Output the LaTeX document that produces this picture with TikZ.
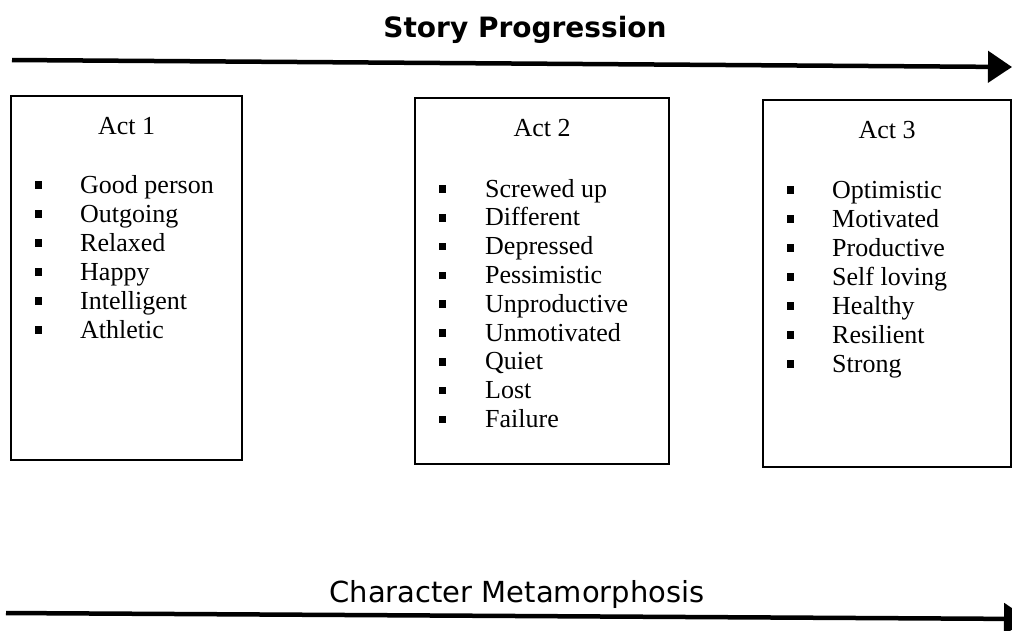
\documentclass[tikz,border=0pt]{standalone}
\usepackage{fontspec}
\setmainfont{Liberation Serif}
\setsansfont{DejaVu Sans}
\usetikzlibrary{arrows.meta}

\begin{document}
\begin{tikzpicture}[x=1pt,y=-1pt,
  actbox/.style={draw, line width=2.2pt, inner sep=0pt, anchor=north west},
  acttitle/.style={font=\fontsize{26}{30}\selectfont, anchor=base, inner sep=0pt},
  itemtext/.style={font=\fontsize{26}{30}\selectfont, anchor=base west, inner sep=0pt},
  bulletsq/.style={fill, minimum size=7.5pt, inner sep=0pt},
  heading/.style={font=\sffamily\fontsize{29}{33}\selectfont, anchor=base, inner sep=0pt},
  timeline/.style={line width=4.5pt, -{Triangle[length=24pt,width=31pt]}},
]
\useasboundingbox (0,0) rectangle (1012,630);
\clip (0,0) rectangle (1012,630);

% headings
\node[heading, font=\sffamily\bfseries\fontsize{28}{32}\selectfont] (story) at (525,37) {Story Progression};
\node[heading] (meta) at (517,602) {Character Metamorphosis};

% timeline arrows
\coordinate (top-start) at (12,60);
\coordinate (top-end) at (1012,67);
\coordinate (bot-start) at (6,613);
\coordinate (bot-end) at (1028,619);
\draw[timeline] (top-start) -- (top-end);
\draw[timeline] (bot-start) -- (bot-end);

% act boxes
\node[actbox, minimum width=231pt, minimum height=364pt] (box1) at (10,95) {};
\node[actbox, minimum width=254pt, minimum height=366pt] (box2) at (414,97) {};
\node[actbox, minimum width=248pt, minimum height=367pt] (box3) at (762,99) {};

\node[acttitle] (title1) at ([yshift=-39pt]box1.north) {Act 1};
\node[acttitle] (title2) at ([yshift=-39pt]box2.north) {Act 2};
\node[acttitle] (title3) at ([yshift=-39pt]box3.north) {Act 3};

% bulleted lists
\foreach \t [count=\i from 0] in {Good person, Outgoing, Relaxed, Happy, Intelligent, Athletic} {
  \node[bulletsq] (b1-\i) at ({10+28.5},{95+98-8+29*\i}) {};
  \node[itemtext] (t1-\i) at ({10+70},{95+98+29*\i}) {\t};
}
\foreach \t [count=\i from 0] in {Screwed up, Different, Depressed, Pessimistic, Unproductive, Unmotivated, Quiet, Lost, Failure} {
  \node[bulletsq] (b2-\i) at ({414+28.5},{97+100-8+28.8*\i}) {};
  \node[itemtext] (t2-\i) at ({414+71},{97+100+28.8*\i}) {\t};
}
\foreach \t [count=\i from 0] in {Optimistic, Motivated, Productive, Self loving, Healthy, Resilient, Strong} {
  \node[bulletsq] (b3-\i) at ({762+28.5},{99+99-8+29*\i}) {};
  \node[itemtext] (t3-\i) at ({762+70},{99+99+29*\i}) {\t};
}
\end{tikzpicture}
\end{document}
